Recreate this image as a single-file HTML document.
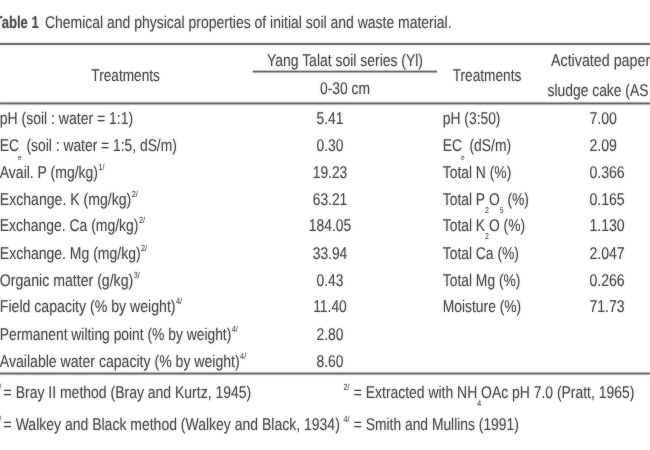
<!DOCTYPE html>
<html><head><meta charset="utf-8"><title>Table 1</title>
<style>
html,body{margin:0;padding:0;background:#fff;}
body{width:650px;height:450px;position:relative;overflow:hidden;font-family:"Liberation Sans",sans-serif;}
</style></head><body>
<svg width="650" height="450" viewBox="0 0 650 450" style="position:absolute;left:0;top:0;will-change:transform"><g font-family="Liberation Sans, sans-serif" font-size="17" fill="#555555" text-rendering="geometricPrecision" style="filter:drop-shadow(0 0 0.8px rgba(85,85,85,0.4))">
<text transform="translate(38.80 28.00) scale(0.7710 1)" text-anchor="end" font-weight="bold">Table 1</text>
<text transform="translate(45.00 28.00) scale(0.8212 1)" text-anchor="start">Chemical and physical properties of initial soil and waste material.</text>
<text transform="translate(125.60 81.00) scale(0.8026 1)" text-anchor="middle">Treatments</text>
<text transform="translate(345.00 65.50) scale(0.8200 1)" text-anchor="middle">Yang Talat soil series (Yl)</text>
<text transform="translate(345.00 94.00) scale(0.8140 1)" text-anchor="middle">0-30 cm</text>
<text transform="translate(487.00 81.00) scale(0.8026 1)" text-anchor="middle">Treatments</text>
<text transform="translate(551.00 65.50) scale(0.8397 1)" text-anchor="start">Activated paper</text>
<text transform="translate(547.60 96.00) scale(0.8142 1)" text-anchor="start">sludge cake (AS</text>
<text transform="translate(-0.20 124.00) scale(0.8227 1)" text-anchor="start">pH (soil : water = 1:1)</text>
<text transform="translate(330.00 124.00) scale(0.8140 1)" text-anchor="middle">5.41</text>
<text transform="translate(442.80 124.00) scale(0.8140 1)" text-anchor="start">pH (3:50)</text>
<text transform="translate(589.40 124.00) scale(0.8300 1)" text-anchor="start">7.00</text>
<text transform="translate(-0.20 151.00) scale(0.8140 1)" text-anchor="start">EC<tspan font-size="8.0" dy="9.4" dx="-1.2">e</tspan><tspan dy="-9.4" dx="1.2"> (soil : water = 1:5, dS/m)</tspan></text>
<text transform="translate(330.00 151.00) scale(0.8140 1)" text-anchor="middle">0.30</text>
<text transform="translate(442.80 151.00) scale(0.8140 1)" text-anchor="start">EC<tspan font-size="8.0" dy="9.4" dx="-1.2">e</tspan><tspan dy="-9.4" dx="1.2"> (dS/m)</tspan></text>
<text transform="translate(589.40 151.00) scale(0.8300 1)" text-anchor="start">2.09</text>
<text transform="translate(-0.20 178.00) scale(0.8225 1)" text-anchor="start">Avail. P (mg/kg)<tspan font-size="8.8" dy="-8.2" dx="0.5" >1/</tspan></text>
<text transform="translate(330.00 178.00) scale(0.8140 1)" text-anchor="middle">19.23</text>
<text transform="translate(442.80 178.00) scale(0.8140 1)" text-anchor="start">Total N (%)</text>
<text transform="translate(589.40 178.00) scale(0.8300 1)" text-anchor="start">0.366</text>
<text transform="translate(-0.20 205.00) scale(0.8280 1)" text-anchor="start">Exchange. K (mg/kg)<tspan font-size="8.8" dy="-8.2" dx="0.5" >2/</tspan></text>
<text transform="translate(330.00 205.00) scale(0.8140 1)" text-anchor="middle">63.21</text>
<text transform="translate(442.80 205.00) scale(0.8140 1)" text-anchor="start">Total P<tspan font-size="8.5" dy="8">2</tspan><tspan dy="-8">O</tspan><tspan font-size="8.5" dy="8">5</tspan><tspan dy="-8"> (%)</tspan></text>
<text transform="translate(589.40 205.00) scale(0.8300 1)" text-anchor="start">0.165</text>
<text transform="translate(-0.20 231.00) scale(0.8199 1)" text-anchor="start">Exchange. Ca (mg/kg)<tspan font-size="8.8" dy="-8.2" dx="0.5" >2/</tspan></text>
<text transform="translate(330.00 231.00) scale(0.8140 1)" text-anchor="middle">184.05</text>
<text transform="translate(442.80 231.00) scale(0.8140 1)" text-anchor="start">Total K<tspan font-size="8.5" dy="8">2</tspan><tspan dy="-8">O (%)</tspan></text>
<text transform="translate(589.40 231.00) scale(0.8300 1)" text-anchor="start">1.130</text>
<text transform="translate(-0.20 259.00) scale(0.8234 1)" text-anchor="start">Exchange. Mg (mg/kg)<tspan font-size="8.8" dy="-8.2" dx="0.5" >2/</tspan></text>
<text transform="translate(330.00 259.00) scale(0.8140 1)" text-anchor="middle">33.94</text>
<text transform="translate(442.80 259.00) scale(0.8140 1)" text-anchor="start">Total Ca (%)</text>
<text transform="translate(589.40 259.00) scale(0.8300 1)" text-anchor="start">2.047</text>
<text transform="translate(-0.20 286.00) scale(0.8309 1)" text-anchor="start">Organic matter (g/kg)<tspan font-size="8.8" dy="-8.2" dx="0.5" >3/</tspan></text>
<text transform="translate(330.00 286.00) scale(0.8140 1)" text-anchor="middle">0.43</text>
<text transform="translate(442.80 286.00) scale(0.8140 1)" text-anchor="start">Total Mg (%)</text>
<text transform="translate(589.40 286.00) scale(0.8300 1)" text-anchor="start">0.266</text>
<text transform="translate(-0.20 312.00) scale(0.8302 1)" text-anchor="start">Field capacity (% by weight)<tspan font-size="8.8" dy="-8.2" dx="0.5" >4/</tspan></text>
<text transform="translate(330.00 312.00) scale(0.8140 1)" text-anchor="middle">11.40</text>
<text transform="translate(442.80 312.00) scale(0.8140 1)" text-anchor="start">Moisture (%)</text>
<text transform="translate(589.40 312.00) scale(0.8300 1)" text-anchor="start">71.73</text>
<text transform="translate(-0.20 340.00) scale(0.8140 1)" text-anchor="start">Permanent wilting point (% by weight)<tspan font-size="8.8" dy="-8.2" dx="0.5" >4/</tspan></text>
<text transform="translate(330.00 340.00) scale(0.8140 1)" text-anchor="middle">2.80</text>
<text transform="translate(-0.20 367.00) scale(0.8279 1)" text-anchor="start">Available water capacity (% by weight)<tspan font-size="8.8" dy="-8.2" dx="0.5" >4/</tspan></text>
<text transform="translate(330.00 367.00) scale(0.8140 1)" text-anchor="middle">8.60</text>
<text transform="translate(1.30 389.80) scale(0.8140 1)" text-anchor="end" font-size="8.8">1/</text>
<text transform="translate(3.60 398.00) scale(0.8227 1)" text-anchor="start">= Bray II method (Bray and Kurtz, 1945)</text>
<text transform="translate(343.60 389.80) scale(0.8140 1)" text-anchor="start" font-size="8.8">2/</text>
<text transform="translate(353.80 398.00) scale(0.8189 1)" text-anchor="start">= Extracted with NH<tspan font-size="8.5" dy="8">4</tspan><tspan dy="-8">OAc pH 7.0 (Pratt, 1965)</tspan></text>
<text transform="translate(1.30 421.80) scale(0.8140 1)" text-anchor="end" font-size="8.8">3/</text>
<text transform="translate(3.60 430.00) scale(0.8233 1)" text-anchor="start">= Walkey and Black method (Walkey and Black, 1934)</text>
<text transform="translate(343.60 421.80) scale(0.8140 1)" text-anchor="start" font-size="8.8">4/</text>
<text transform="translate(353.80 430.00) scale(0.8140 1)" text-anchor="start">= Smith and Mullins (1991)</text>
<rect x="0" y="43.00" width="650" height="1.9" fill="#6e6e6e"/>
<rect x="252.8" y="70.75" width="184.2" height="1.7" fill="#6e6e6e"/>
<rect x="0" y="102.50" width="650" height="1.9" fill="#6e6e6e"/>
<rect x="0" y="372.60" width="650" height="1.9" fill="#6e6e6e"/>
</g>
</svg>
</body></html>
